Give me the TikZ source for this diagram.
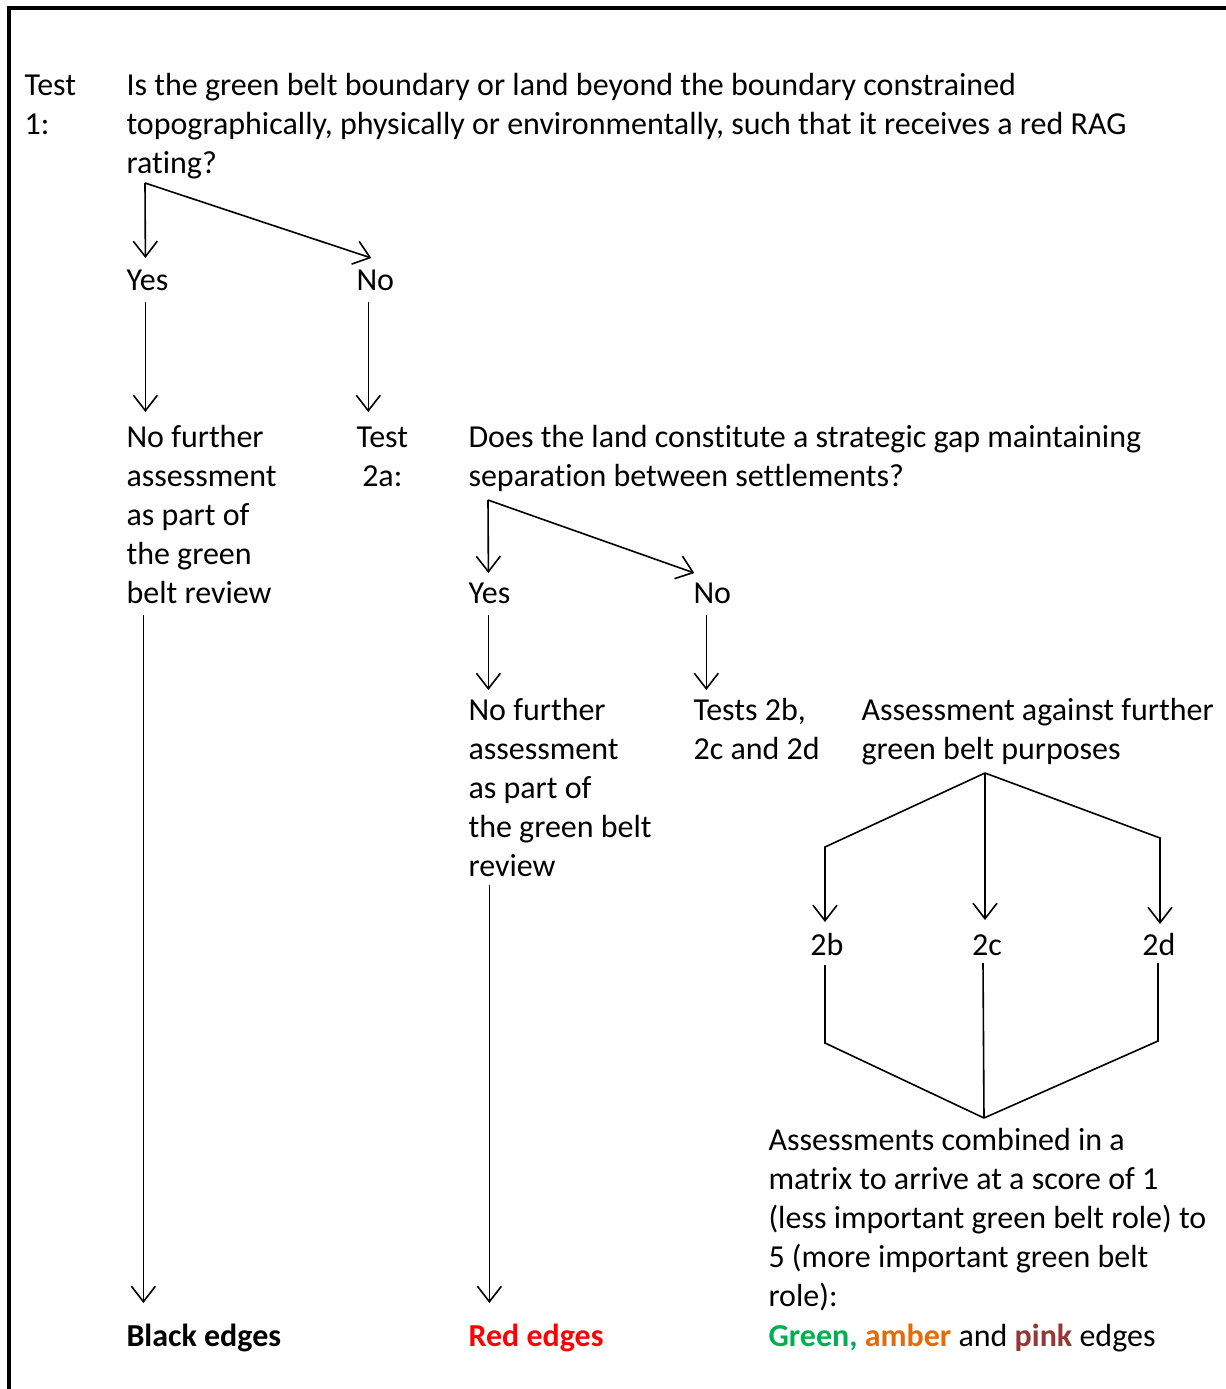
\documentclass[tikz,border=0pt]{standalone}
\usepackage{fontspec}
\setmainfont{Carlito}[Ligatures=NoCommon]
\usepackage{xcolor}
\usetikzlibrary{arrows.meta,calc}
\definecolor{ragGreen}{HTML}{00B050}
\definecolor{ragAmber}{HTML}{E36C09}
\definecolor{ragPink}{HTML}{953735}
\definecolor{ragRed}{HTML}{FF0000}

\begin{document}
\begin{tikzpicture}[x=0.375pt,y=-0.375pt]
\tikzset{every node/.style={inner sep=0pt,anchor=base west,align=left,font=\fontsize{12}{14.625}\selectfont}}
\tikzset{edge/.style={line width=0.6pt}}
\tikzset{arr/.style={edge,-{Straight Barb[length=5.8pt,width=9pt,line width=0.6pt]}}}

\useasboundingbox (0,0) rectangle (1226,1389);
\draw[line width=1.5pt] (9,1389) -- (9,8) -- (1226,8);

\node (t1lab) at (24,134) {Test\\1:};
\node (t1q) at (126,173) {Is the green belt boundary or land beyond the boundary constrained\\topographically, physically or environmentally, such that it receives a red RAG\\rating?};
\node (yes1) at (126,290) {Yes};
\node (no1) at (356,290) {No};
\node (stop1) at (126,603) {No further\\assessment\\as part of\\the green\\belt review};
\node[align=center] (t2alab) at (356,486) {Test\\2a:};
\node (t2aq) at (468,486) {Does the land constitute a strategic gap maintaining\\separation between settlements?};
\node (yes2) at (468,603) {Yes};
\node (no2) at (693,603) {No};
\node (stop2) at (468,876) {No further\\assessment\\as part of\\the green belt\\review};
\node (tests) at (693,759) {Tests 2b,\\2c and 2d};
\node (further) at (861,759) {Assessment against further\\green belt purposes};
\node[anchor=base] (b2) at (827,955) {2b};
\node[anchor=base] (c2) at (987,955) {2c};
\node[anchor=base] (d2) at (1159,955) {2d};
\node (combined) at (768,1306) {Assessments combined in a\\matrix to arrive at a score of 1\\(less important green belt role) to\\5 (more important green belt\\role):};
\node[font=\fontsize{12}{14.625}\selectfont\bfseries] (black) at (126,1346) {Black edges};
\node[font=\fontsize{12}{14.625}\selectfont\bfseries,text=ragRed] (red) at (468,1346) {Red edges};
\node (colours) at (768,1346) {\textbf{\color{ragGreen}Green, }\textbf{\color{ragAmber}amber} and \textbf{\color{ragPink}pink} edges};

\coordinate (f1) at (145,183);
\coordinate (f2) at (488,500);
\coordinate (g) at (985,773);
\coordinate (h) at (984,1118);

\draw[arr] (f1) -- ($(yes1.base)+(-2,-32)$);
\draw[arr] (f1) -- ($(no1.base)+(-4,-32)$);
\draw[arr] ($(yes1.base)+(-2,12)$) -- ($(yes1.base |- stop1.base)+(-2,-191)$);
\draw[arr] ($(no1.base)+(-7,12)$) -- ($(no1.base |- t2alab.base)+(-7,-74)$);
\draw[arr] ($(yes1.base |- stop1.base)+(-4,12)$) -- ($(yes1.base |- black.base)+(-4,-43)$);

\draw[arr] (f2) -- ($(yes2.base)+(-1,-30)$);
\draw[arr] (f2) -- ($(no2.base)+(-18,-30)$);
\draw[arr] ($(yes2.base)+(-1,12)$) -- ($(yes2.base |- stop2.base)+(-1,-186)$);
\draw[arr] ($(no2.base)+(-6,12)$) -- ($(no2.base |- tests.base)+(-6,-69)$);
\draw[arr] ($(yes2.base |- stop2.base)+(0,9)$) -- ($(yes2.base |- red.base)+(0,-43)$);

\draw[arr] (g) -- ($(b2.base)+(-2,-108)$) -- ($(b2.base)+(-2,-33)$);
\draw[arr] (g) -- ($(c2.base)+(-2,-35)$);
\draw[arr] (g) -- ($(d2.base)+(1,-117)$) -- ($(d2.base)+(1,-31)$);

\draw[edge] ($(b2.base)+(-2,10)$) -- ($(b2.base)+(-2,88)$) -- (h);
\draw[edge] ($(c2.base)+(-4,8)$) -- (h);
\draw[edge] ($(d2.base)+(-1,8)$) -- ($(d2.base)+(-1,86)$) -- (h);

\end{tikzpicture}
\end{document}
